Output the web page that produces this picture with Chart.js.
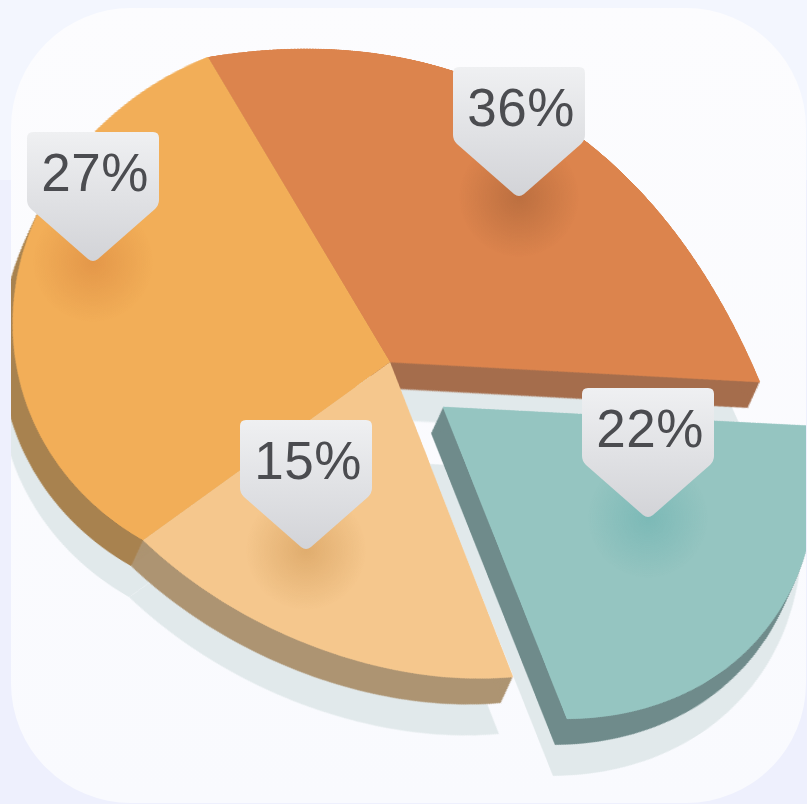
<!DOCTYPE html>
<html>
<head>
<meta charset="utf-8">
<title>Pie chart</title>
<script src="https://cdn.jsdelivr.net/npm/chart.js@4"></script>
<style>
  html, body { margin: 0; height: 100%; overflow: hidden; background: linear-gradient(#f3f6fe 180px, #eef0fd 180px); }
  #panel {
    position: absolute; left: 0; top: 0; width: 807px; height: 804px;
    background: linear-gradient(#fcfcfe, #f9fafe);
    clip-path: inset(8px 1px 1px 11px round 120px);
    overflow: hidden;
  }
  canvas { position: absolute; left: 0; top: 0; transform-origin: 0 0; }
  .glow { position: absolute; width: 120px; height: 120px; border-radius: 50%; }
  .tag {
    position: absolute; width: 132px; height: 131px;
    background: linear-gradient(#eff0f2, #d2d3d7);
    clip-path: path("M6 0H126Q132 0 132 6V68Q132 73 128 77L71 127Q66 131 61 127L4 77Q0 73 0 68V6Q0 0 6 0Z");
    font: 53px "Liberation Sans", Arial, sans-serif;
    letter-spacing: .5px; text-indent: 4px;
    color: #4b4c50; text-align: center; line-height: 82px;
  }
</style>
</head>
<body>
<div id="panel"></div>
<script>
// Data
const categories = ["36%", "22%", "15%", "27%"];
const values = [36, 22, 15, 27];
const topColors = ["#dc844d", "#95c5c1", "#f5c78d", "#f2ae58"];
const sideColors = ["#a56d4c", "#6f8b8b", "#ad9472", "#a8824f"];
const glowColors = ["rgba(140,80,45,.4)", "rgba(80,165,165,.36)", "rgba(190,130,60,.38)", "rgba(205,115,50,.38)"];

// Where each callout's point sits on the page
const tagTips = [[519, 197], [648, 518], [306, 550], [93, 262]];

// The picture is drawn in perspective: where each slice lands on the page
// [apex, rim at start, rim at the anchor, rim at end]
const sliceCorners = [
  [[390, 362], [208, 57], [583, 139], [760, 382]],
  [[443, 407], [812, 426], [757, 640], [567, 719]],
  [[390, 362], [513, 677], [318, 648], [143, 540]],
  [[390, 362], [143, 540], [13, 315], [208, 57]],
];
// How far along each slice's arc the anchor point is
const anchorAt = [0.6, 0.5, 0.5, 0.5];
// Canvas size per slice, the strong tilt of the last one breaks on a bigger canvas
const canvasSizes = [1600, 1600, 2000, 1200];
// Back to front, so no shadow falls on a neighbour's side
const depthOrder = [3, 2, 0, 1];

const RADIUS = 400;
const SHADOW_SHIFT = [-14, 57];
const SIDE_SHIFT = [-12, 26];

// Homography through four point pairs, [x, y, X, Y]
function fitHomography(pairs) {
  const M = [];
  pairs.forEach(([x, y, X, Y]) => {
    M.push([x, y, 1, 0, 0, 0, -x * X, -y * X, X]);
    M.push([0, 0, 0, x, y, 1, -x * Y, -y * Y, Y]);
  });
  for (let c = 0; c < 8; c++) {
    let p = c;
    for (let r = c + 1; r < 8; r++) if (Math.abs(M[r][c]) > Math.abs(M[p][c])) p = r;
    [M[c], M[p]] = [M[p], M[c]];
    for (let r = 0; r < 8; r++) {
      if (r === c) continue;
      const f = M[r][c] / M[c][c];
      for (let k = c; k <= 8; k++) M[r][k] -= f * M[c][k];
    }
  }
  const h = M.map((row, i) => row[8] / row[i]);
  return [h[0], h[1], h[2] * 1000, h[3], h[4], h[5] * 1000, h[6] / 1000, h[7] / 1000, 1];
}

function invert3(m) {
  const [a, b, c, d, e, f, g, h, i] = m;
  return [e * i - f * h, c * h - b * i, b * f - c * e,
          f * g - d * i, a * i - c * g, c * d - a * f,
          d * h - e * g, b * g - a * h, a * e - b * d];
}

function apply3(m, x, y) {
  const w = m[6] * x + m[7] * y + m[8];
  return [(m[0] * x + m[1] * y + m[2]) / w, (m[3] * x + m[4] * y + m[5]) / w];
}

const total = values.reduce((a, b) => a + b, 0);
const rimPoint = (mid, frac) => {
  const a = frac * 2 * Math.PI;
  return [mid + RADIUS * Math.sin(a), mid - RADIUS * Math.cos(a)];
};

let running = 0;
const sliceMaps = values.map((v, i) => {
  const mid = canvasSizes[i] / 2;
  const from = [
    [mid, mid],
    rimPoint(mid, running / total),
    rimPoint(mid, (running + v * anchorAt[i]) / total),
    rimPoint(mid, (running + v) / total),
  ];
  running += v;
  return fitHomography(from.map((p, k) => [p[0] / 1000, p[1] / 1000, sliceCorners[i][k][0] / 1000, sliceCorners[i][k][1] / 1000]));
});

// Slice outline moved by a shift measured on the page
function fillShifted(ctx, arc, map, inverse, dx, dy) {
  const p = arc.getProps(["x", "y", "startAngle", "endAngle", "outerRadius"]);
  const outline = [[p.x, p.y]];
  for (let s = 0; s <= 60; s++) {
    const a = p.startAngle + (p.endAngle - p.startAngle) * s / 60;
    outline.push([p.x + p.outerRadius * Math.cos(a), p.y + p.outerRadius * Math.sin(a)]);
  }
  ctx.beginPath();
  outline.forEach(([x, y], k) => {
    const page = apply3(map, x, y);
    const [qx, qy] = apply3(inverse, page[0] + dx, page[1] + dy);
    if (k === 0) ctx.moveTo(qx, qy); else ctx.lineTo(qx, qy);
  });
  ctx.closePath();
  ctx.fill();
}

const panel = document.getElementById("panel");

function addSlice(i, under) {
  const canvas = document.createElement("canvas");
  canvas.width = canvasSizes[i];
  canvas.height = canvasSizes[i];
  panel.appendChild(canvas);
  const H = sliceMaps[i];
  canvas.style.transform = "matrix3d(" + [H[0], H[3], 0, H[6], H[1], H[4], 0, H[7], 0, 0, 1, 0, H[2], H[5], 0, 1].join(",") + ")";

  // Shadow under the slice and its thickness
  const depthPlugin = {
    id: "depth",
    beforeDatasetsDraw(chart) {
      if (!under) return;
      const ctx = chart.ctx;
      const arc = chart.getDatasetMeta(0).data[i];
      const inverse = invert3(H);
      ctx.save();
      ctx.fillStyle = "#e1e9eb";
      fillShifted(ctx, arc, H, inverse, SHADOW_SHIFT[0], SHADOW_SHIFT[1]);
      ctx.fillStyle = sideColors[i];
      for (let s = 1; s <= 30; s++) {
        fillShifted(ctx, arc, H, inverse, SIDE_SHIFT[0] * s / 30, SIDE_SHIFT[1] * s / 30);
      }
      // same colour as the top, so no dark hairline shows between slices
      ctx.fillStyle = topColors[i];
      fillShifted(ctx, arc, H, inverse, 0, 0);
      ctx.restore();
    },
  };

  new Chart(canvas, {
    type: "pie",
    data: {
      labels: categories,
      datasets: [{
        data: values,
        backgroundColor: topColors.map((c, k) => (k === i && !under ? c : "transparent")),
        borderWidth: 0,
      }],
    },
    options: {
      responsive: false,
      animation: false,
      devicePixelRatio: 1,
      radius: RADIUS,
      plugins: { legend: { display: false }, tooltip: { enabled: false } },
    },
    plugins: [depthPlugin],
  });
}

depthOrder.forEach((i) => addSlice(i, true));
values.forEach((v, i) => addSlice(i, false));

// Callouts
categories.forEach((text, i) => {
  const [x, y] = tagTips[i];
  const glow = document.createElement("div");
  glow.className = "glow";
  glow.style.left = x - 60 + "px";
  glow.style.top = y - 60 + "px";
  glow.style.background = "radial-gradient(closest-side, " + glowColors[i] + ", transparent)";
  panel.appendChild(glow);
  const tag = document.createElement("div");
  tag.className = "tag";
  tag.style.left = x - 66 + "px";
  tag.style.top = y - 130 + "px";
  tag.textContent = text;
  panel.appendChild(tag);
});
</script>
</body>
</html>
